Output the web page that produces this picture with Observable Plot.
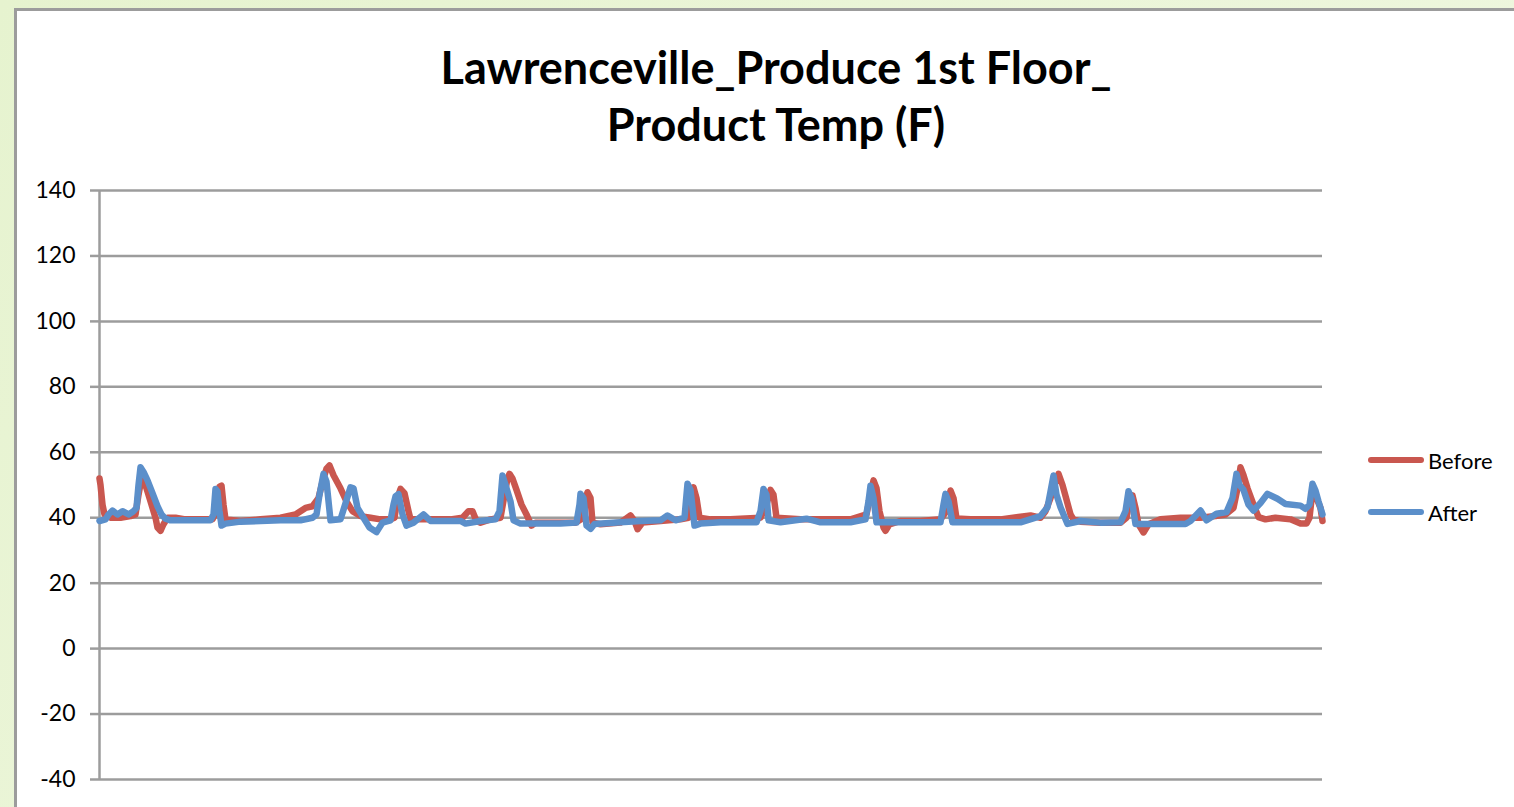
<!DOCTYPE html>
<html><head><meta charset="utf-8">
<script src="https://cdn.jsdelivr.net/npm/d3@7"></script>
<script src="https://cdn.jsdelivr.net/npm/@observablehq/plot@0.6"></script>
<style>
html,body{margin:0;padding:0;}
body{width:1514px;height:807px;overflow:hidden;position:relative;background:linear-gradient(135deg,#e6f3cf,#f1f8e4);font-family:Lato,"Open Sans",sans-serif;}
#panel{position:absolute;left:14px;top:8px;width:1600px;height:900px;background:#fff;border:3px solid #9c9c9c;box-sizing:border-box;}
#chart{position:absolute;left:0;top:0;}
#title{position:absolute;left:0;top:39px;width:1552px;text-align:center;font-weight:bold;font-size:45px;line-height:57px;color:#000;}
#legend{position:absolute;left:1368px;top:434px;font-size:22px;color:#000;}
.item{display:flex;align-items:center;height:52px;}
.sw{width:56px;height:6px;border-radius:3px;margin-right:4px;}
</style></head>
<body>
<div id="panel"></div>
<div id="chart"></div>
<div id="title">Lawrenceville_Produce 1st Floor_<br>Product Temp (F)</div>
<div id="legend"></div>
<script>
const yTicks = [-40, -20, 0, 20, 40, 60, 80, 100, 120, 140];
const seriesNames = ["Before", "After"];
const seriesColors = ["#c9574f", "#5b8fca"];

const beforeTime = [0,1,3,5,11,21,31,36,39,42,46,51,56,58,61,64,68,76,86,101,113,117,120,122,124,126,141,161,181,196,206,213,219,223,227,230,234,241,247,253,261,271,281,291,295,298,301,305,309,311,331,351,363,369,373,377,381,391,401,405,408,410,413,417,422,427,432,436,451,476,484,486,488,491,493,501,521,531,535,538,543,561,581,589,591,594,597,600,611,631,661,667,671,674,677,701,731,751,767,771,774,777,780,784,786,790,801,821,841,847,851,854,857,871,901,931,941,946,951,956,959,963,967,971,974,981,1001,1021,1027,1030,1033,1036,1039,1044,1049,1061,1081,1101,1116,1126,1134,1138,1141,1144,1148,1154,1159,1166,1176,1191,1201,1207,1210,1213,1217,1221,1223];
const beforeTemp = [52,50,44,41,40,40,40.5,41,47,52,50,45,40,37,36,38,40,40,39.5,39.5,39.5,42,49.5,49.8,44,39.5,39,39.5,40,41,43,43.5,46,51,55,56,53,49,45,42,40.5,40,39.5,39.5,40,46,48.8,47.5,42,39.5,39.5,39.5,40,42,42,39,38.5,39.5,40,47,52,53.4,52,48.5,44,41,37.6,38.5,38.5,38.5,40,45,47.8,46,38.5,38,38.5,40.7,39,36.5,38.5,39,39.5,40,46,49.3,46,40,39.5,39.5,40,44,48.5,47,40,39.5,39.5,39.5,41,47,51.4,49,42,37,36,38,39,39,39.5,42,48.3,46,39.8,39.5,39.5,40.7,40,42,46,51,53.4,50,45.5,41,39.5,38.8,38.5,38.5,40,45,46.8,43,38,35.5,38,39.5,40,40,40.5,41,43,49,55.4,53,49,44,40.2,39.5,40,39.5,38.2,38.2,40,48.3,46,43,39];

const afterTime = [0,6,9,13,18,23,29,34,37,39,41,44,48,53,58,62,66,71,91,111,114,116,118,120,122,126,141,161,181,201,213,217,220,224,227,231,241,251,254,258,264,270,277,283,291,294,296,299,303,307,314,324,331,361,366,381,396,400,403,406,411,414,421,441,461,477,480,481,484,487,491,495,521,541,561,568,576,585,587,588,591,595,601,621,641,657,661,664,667,669,681,707,721,751,766,769,771,774,777,791,821,841,844,846,849,853,881,901,921,941,948,951,954,957,961,968,981,1001,1021,1026,1029,1032,1036,1051,1071,1086,1091,1101,1107,1117,1127,1133,1137,1140,1144,1149,1154,1161,1168,1178,1186,1201,1206,1210,1213,1216,1219,1223];
const afterTemp = [39,39.5,41,42.2,41,42,41,42,43,50,55.4,54,51.4,47.5,43.5,41,39.7,39.2,39.2,39.2,41,48.8,48,42,37.6,38.2,38.8,39,39.2,39.2,40,41,47,53.4,51,39.2,39.5,49.3,49,43,40,37,35.6,38.5,39.2,44,46.5,47.2,41,37.6,38.5,41,39,39,38.2,39,39.5,42,52.9,50,45,39.2,38.2,38.2,38.2,38.5,44,47.3,46,37.6,36.6,38.1,38.6,39,39.2,40.7,39.2,40,47,50.4,48.5,37.6,38.2,38.6,38.6,38.6,42,48.8,47,39.2,38.6,39.7,38.6,38.6,39.5,45,49.8,46,38.6,38.6,38.6,38.6,44,47.3,45,38.6,38.6,38.6,38.6,40.5,43.2,48,52.9,47,43.2,38.1,39,38.5,38.6,42,48.1,46,38.1,38.1,38.1,38.1,39,42.2,39.2,41.2,41.7,46,53.4,50,48.5,44,42.2,44.5,47.3,45.8,44.2,43.7,42.7,44,50.4,48.3,45,41];

const before = beforeTime.map((t, i) => ({t, v: beforeTemp[i]}));
const after = afterTime.map((t, i) => ({t, v: afterTemp[i]}));
const grid = "#9c9c9c";

const chart = Plot.plot({
  width: 1514,
  height: 807,
  marginLeft: 99,
  marginRight: 192,
  marginTop: 190,
  marginBottom: 28,
  style: {fontFamily: "Lato, 'Open Sans', sans-serif", fontSize: "23px", color: "#000", background: "transparent", overflow: "visible"},
  x: {domain: [0, 1223], axis: null},
  y: {domain: [-40, 140], ticks: yTicks},
  marks: [
    Plot.ruleY(yTicks, {stroke: grid, strokeWidth: 2.5, strokeOpacity: 1}),
    Plot.axisY(yTicks, {tickSize: 9, tickPadding: 15, stroke: grid, strokeWidth: 2.5, strokeOpacity: 1, fontSize: 23, fill: "#000", label: null, tickFormat: d => String(d)}),
    Plot.ruleX([0], {stroke: grid, strokeWidth: 2.5}),
    Plot.line(before, {x: "t", y: "v", stroke: seriesColors[0], strokeWidth: 6.5, strokeLinejoin: "round", strokeLinecap: "round"}),
    Plot.line(after, {x: "t", y: "v", stroke: seriesColors[1], strokeWidth: 6.5, strokeLinejoin: "round", strokeLinecap: "round"})
  ]
});
document.getElementById("chart").appendChild(chart);

const legend = document.getElementById("legend");
seriesNames.forEach((name, i) => {
  const d = document.createElement("div");
  d.className = "item";
  d.innerHTML = `<div class="sw" style="background:${seriesColors[i]}"></div><span>${name}</span>`;
  legend.appendChild(d);
});
</script>
</body></html>
